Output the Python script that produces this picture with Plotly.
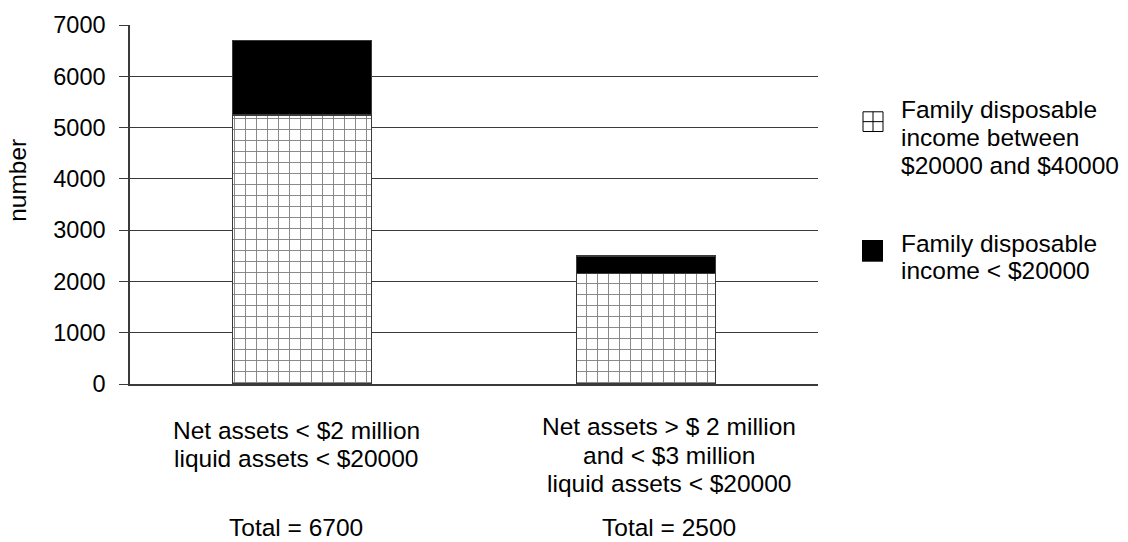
import plotly.graph_objects as go

# ---- data ----
categories = ["assets_low", "assets_mid"]
category_lines = [
    ["Net assets < $2 million", "liquid assets < $20000"],
    ["Net assets > $ 2 million", "and < $3 million", "liquid assets < $20000"],
]
income_20k_40k = [5250, 2150]   # hatched segment
income_below_20k = [1450, 350]  # solid black segment
totals = [6700, 2500]
series_names = [
    ["Family disposable", "income between", "$20000 and $40000"],
    ["Family disposable", "income < $20000"],
]
y_ticks = [0, 1000, 2000, 3000, 4000, 5000, 6000, 7000]

# ---- page geometry (pixels) ----
W, H = 1128, 542
L, R, T, B = 130, 818, 20, 384
FONT = "Liberation Sans, Arial, sans-serif"
FS = 24.5
TICK_FS = 23.5
LINE = 29


def px(x):
    return (x - L) / (R - L)


def py(y):
    return (B - y) / (B - T)


fig = go.Figure()
fig.add_trace(go.Bar(
    x=categories, y=income_20k_40k, name=" ".join(series_names[0]),
    marker=dict(
        color="white",
        line=dict(color="#3a3a3a", width=1.5),
        pattern=dict(shape="+", fgcolor="black", bgcolor="white",
                     size=11, solidity=0.16, fillmode="overlay"),
    ),
))
fig.add_trace(go.Bar(
    x=categories, y=income_below_20k, name=" ".join(series_names[1]),
    marker=dict(color="black", line=dict(color="#3a3a3a", width=1.5)),
))

annotations = []
# category labels under each bar
first_line_y = [431, 427]
label_shift = [-6, 23]
for cat, lines, y0, dx, tot in zip(categories, category_lines, first_line_y,
                                   label_shift, totals):
    for i, ln in enumerate(lines):
        annotations.append(dict(
            x=cat, xref="x", y=py(y0 + i * LINE), yref="paper", xshift=dx,
            text=ln, showarrow=False, xanchor="center", yanchor="middle",
            font=dict(family=FONT, size=FS, color="black"),
        ))
    annotations.append(dict(
        x=cat, xref="x", y=py(529), yref="paper", xshift=dx,
        text=f"Total = {tot}", showarrow=False, xanchor="center", yanchor="middle",
        font=dict(family=FONT, size=FS, color="black"),
    ))

# y-axis title
annotations.append(dict(
    x=px(18), xref="paper", y=py(177), yref="paper", text="number",
    textangle=-90, showarrow=False, xanchor="center", yanchor="middle",
    font=dict(family=FONT, size=FS, color="black"),
))

# legend text
legend_lines_y = [[106, 134, 162], [242, 269]]
for lines, ys in zip(series_names, legend_lines_y):
    for ln, yy in zip(lines, ys):
        annotations.append(dict(
            x=px(899), xref="paper", y=py(yy), yref="paper",
            text=ln, showarrow=False, xanchor="left", yanchor="middle",
            font=dict(family=FONT, size=FS, color="black"),
        ))

shapes = []
# legend key: hatched square (2x2 grid)
hx0, hx1, hy0, hy1 = 863, 883, 108, 128
ln_style = dict(color="black", width=1)
shapes.append(dict(type="rect", xref="paper", yref="paper",
                   x0=px(hx0), x1=px(hx1), y0=py(hy1), y1=py(hy0),
                   line=ln_style, fillcolor="white"))
shapes.append(dict(type="line", xref="paper", yref="paper",
                   x0=px((hx0 + hx1) / 2), x1=px((hx0 + hx1) / 2),
                   y0=py(hy1), y1=py(hy0), line=ln_style))
shapes.append(dict(type="line", xref="paper", yref="paper",
                   x0=px(hx0), x1=px(hx1),
                   y0=py((hy0 + hy1) / 2), y1=py((hy0 + hy1) / 2), line=ln_style))
# legend key: solid black square
shapes.append(dict(type="rect", xref="paper", yref="paper",
                   x0=px(862), x1=px(883), y0=py(260), y1=py(238),
                   line=dict(color="black", width=0), fillcolor="black"))

fig.update_layout(
    width=W, height=H,
    margin=dict(l=L, r=W - R, t=T, b=H - B),
    barmode="stack", bargap=0.596,
    showlegend=False,
    plot_bgcolor="white", paper_bgcolor="white",
    font=dict(family=FONT, size=FS, color="black"),
    annotations=annotations, shapes=shapes,
    xaxis=dict(
        showticklabels=False, ticks="", showgrid=False, zeroline=False,
        showline=True, linecolor="#3a3a3a", linewidth=1.5,
        range=[-0.5, 1.5],
    ),
    yaxis=dict(
        range=[0, 7000], tickvals=y_ticks, ticks="outside", ticklen=9,
        tickcolor="#3a3a3a", tickwidth=1, ticklabelstandoff=9,
        showline=True, linecolor="#3a3a3a", linewidth=1.5,
        showgrid=True, gridcolor="#3a3a3a", gridwidth=1, zeroline=False,
        tickfont=dict(family=FONT, size=TICK_FS, color="black"),
    ),
)

fig.write_html("out.html")
